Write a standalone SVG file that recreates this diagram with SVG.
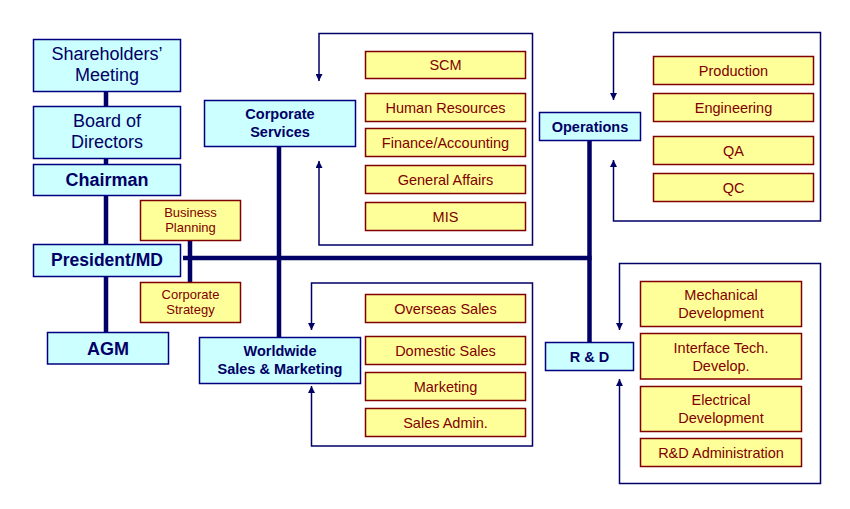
<svg xmlns="http://www.w3.org/2000/svg" width="850" height="509" viewBox="0 0 850 509">
<defs>
<marker id="arr" viewBox="0 0 10 10" refX="10" refY="5" markerWidth="7" markerHeight="7" markerUnits="userSpaceOnUse" orient="auto-start-reverse">
<path d="M0,0 L10,5 L0,10 z" fill="#000066"/>
</marker>
<style>
.main{fill:#CCFFFF;stroke:#000080;stroke-width:1.5}
.sub{fill:#FFFF99;stroke:#800000;stroke-width:1.5}
.mt{font-family:"Liberation Sans",Arial,sans-serif;fill:#000066;text-anchor:middle}
.b{font-weight:bold}
.st{font-family:"Liberation Sans",Arial,sans-serif;fill:#800000;text-anchor:middle;font-size:14.5px}
.thick{stroke:#000066;stroke-width:4.5;fill:none}
.brk{stroke:#000066;stroke-width:1.5;fill:none;marker-start:url(#arr);marker-end:url(#arr)}
</style>
</defs>
<rect width="850" height="509" fill="#FFFFFF"/>
<g id="connectors">
<line class="thick" x1="106" y1="91" x2="106" y2="332"/>
<line class="thick" x1="190" y1="240" x2="190" y2="282"/>
<line class="thick" x1="183" y1="258" x2="591.5" y2="258"/>
<line class="thick" x1="279" y1="146" x2="279" y2="337"/>
<line class="thick" x1="589.5" y1="140" x2="589.5" y2="342"/>
<path class="brk" d="M319,81 V33.5 H532.5 V245 H319 V161"/>
<path class="brk" d="M613.5,100 V32.5 H820.5 V221 H613.5 V160"/>
<path class="brk" d="M311.5,330 V283 H532.5 V446 H311.5 V386"/>
<path class="brk" d="M619.5,330 V263.5 H820.5 V483.5 H619.5 V379"/>
</g>
<g id="shareholders">
<rect class="main" x="33.5" y="39.5" width="147" height="52"/>
<text class="mt" font-size="18" x="107" y="59.5">Shareholders’</text>
<text class="mt" font-size="18" x="107" y="81">Meeting</text>
</g>
<g id="board">
<rect class="main" x="33.5" y="106.5" width="147" height="52"/>
<text class="mt" font-size="18" x="107" y="126.5">Board of</text>
<text class="mt" font-size="18" x="107" y="147.5">Directors</text>
</g>
<g id="chairman">
<rect class="main" x="33.5" y="164.5" width="147" height="31"/>
<text class="mt b" font-size="18" x="107" y="186">Chairman</text>
</g>
<g id="president">
<rect class="main" x="33.5" y="244.5" width="147" height="32"/>
<text class="mt b" font-size="17.5" x="107" y="266">President/MD</text>
</g>
<g id="agm">
<rect class="main" x="47.5" y="332.5" width="121" height="31.5"/>
<text class="mt b" font-size="18" x="108" y="354.5">AGM</text>
</g>
<g id="business-planning">
<rect class="sub" x="140.5" y="200.5" width="100" height="40"/>
<text class="st" font-size="13" style="font-size:13px" x="190.5" y="216.5">Business</text>
<text class="st" style="font-size:13px" x="190.5" y="231.5">Planning</text>
</g>
<g id="corporate-strategy">
<rect class="sub" x="140.5" y="282.5" width="100" height="40"/>
<text class="st" style="font-size:13px" x="190.5" y="298.5">Corporate</text>
<text class="st" style="font-size:13px" x="190.5" y="313.5">Strategy</text>
</g>
<g id="corporate-services">
<rect class="main" x="204.5" y="100.5" width="151" height="46"/>
<text class="mt b" font-size="14.5" x="280" y="119">Corporate</text>
<text class="mt b" font-size="14.5" x="280" y="137">Services</text>
</g>
<g id="scm"><rect class="sub" x="365.5" y="51.5" width="160" height="27"/><text class="st" x="445.5" y="70">SCM</text></g>
<g id="hr"><rect class="sub" x="365.5" y="93.5" width="160" height="28"/><text class="st" x="445.5" y="112.5">Human Resources</text></g>
<g id="finance"><rect class="sub" x="365.5" y="128.5" width="160" height="28"/><text class="st" x="445.5" y="147.5">Finance/Accounting</text></g>
<g id="general-affairs"><rect class="sub" x="365.5" y="165.5" width="160" height="28"/><text class="st" x="445.5" y="184.5">General Affairs</text></g>
<g id="mis"><rect class="sub" x="365.5" y="202.5" width="160" height="28"/><text class="st" x="445.5" y="221.5">MIS</text></g>
<g id="worldwide">
<rect class="main" x="199.5" y="337.5" width="161" height="46"/>
<text class="mt b" font-size="14.5" x="280" y="356">Worldwide</text>
<text class="mt b" font-size="14.5" x="280" y="374">Sales &amp; Marketing</text>
</g>
<g id="overseas"><rect class="sub" x="365.5" y="294.5" width="160" height="28"/><text class="st" x="445.5" y="313.5">Overseas Sales</text></g>
<g id="domestic"><rect class="sub" x="365.5" y="336.5" width="160" height="28"/><text class="st" x="445.5" y="355.5">Domestic Sales</text></g>
<g id="marketing"><rect class="sub" x="365.5" y="372.5" width="160" height="28"/><text class="st" x="445.5" y="391.5">Marketing</text></g>
<g id="sales-admin"><rect class="sub" x="365.5" y="408.5" width="160" height="28"/><text class="st" x="445.5" y="427.5">Sales Admin.</text></g>
<g id="operations">
<rect class="main" x="539.5" y="112.5" width="101" height="28"/>
<text class="mt b" font-size="14.5" x="590" y="131.5">Operations</text>
</g>
<g id="production"><rect class="sub" x="653.5" y="56.5" width="160" height="28"/><text class="st" x="733.5" y="75.5">Production</text></g>
<g id="engineering"><rect class="sub" x="653.5" y="93.5" width="160" height="28"/><text class="st" x="733.5" y="112.5">Engineering</text></g>
<g id="qa"><rect class="sub" x="653.5" y="136.5" width="160" height="28"/><text class="st" x="733.5" y="155.5">QA</text></g>
<g id="qc"><rect class="sub" x="653.5" y="173.5" width="160" height="28"/><text class="st" x="733.5" y="192.5">QC</text></g>
<g id="rd">
<rect class="main" x="545.5" y="342.5" width="88" height="28"/>
<text class="mt b" font-size="14.5" x="589.5" y="361.5">R &amp; D</text>
</g>
<g id="mechanical"><rect class="sub" x="640.5" y="281.5" width="161" height="45"/><text class="st" x="721" y="300">Mechanical</text><text class="st" x="721" y="318">Development</text></g>
<g id="interface"><rect class="sub" x="640.5" y="333.5" width="161" height="45.5"/><text class="st" x="721" y="352.5">Interface Tech.</text><text class="st" x="721" y="370.5">Develop.</text></g>
<g id="electrical"><rect class="sub" x="640.5" y="386.5" width="161" height="45"/><text class="st" x="721" y="405">Electrical</text><text class="st" x="721" y="423">Development</text></g>
<g id="rd-admin"><rect class="sub" x="640.5" y="438.5" width="161" height="28"/><text class="st" x="721" y="457.5">R&amp;D Administration</text></g>
</svg>
